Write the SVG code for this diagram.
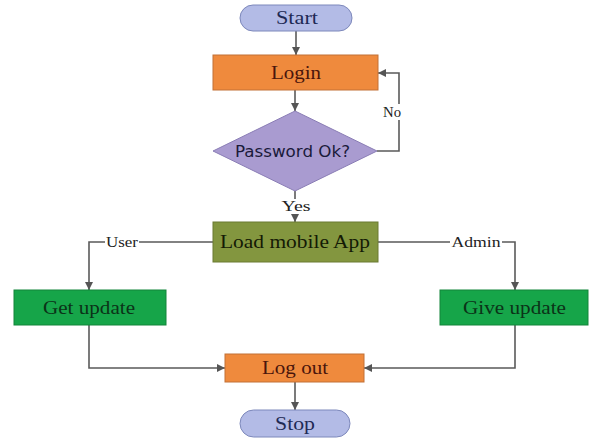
<svg xmlns="http://www.w3.org/2000/svg" width="591" height="439" viewBox="0 0 591 439">
  <defs>
    <marker id="arrow" viewBox="0 0 10 10" refX="10" refY="5" markerWidth="8" markerHeight="8" markerUnits="userSpaceOnUse" orient="auto">
      <path d="M0,0 L10,5 L0,10 z" fill="#555"/>
    </marker>
    <style>
      .term { fill: #b3bbe6; stroke: #7d88bb; stroke-width: 1; }
      .proc { fill: #ef8a3d; stroke: #c27136; stroke-width: 1; }
      .dec { fill: #a99bd0; stroke: #8a7db5; stroke-width: 1; }
      .load { fill: #83963f; stroke: #6a7a33; stroke-width: 1; }
      .green { fill: #16a549; stroke: #12853b; stroke-width: 1; }
      .t { font-family: "Liberation Serif", "Times New Roman", serif; font-size: 18px; text-anchor: middle; dominant-baseline: central; }
      .lbl { font-family: "Liberation Serif", "Times New Roman", serif; font-size: 15px; text-anchor: middle; dominant-baseline: central; fill: #222; }
      .edge { fill: none; stroke: #5a5a5a; stroke-width: 1.6; }
    </style>
  </defs>
  <rect width="591" height="439" fill="#ffffff"/>

  <!-- connectors -->
  <g id="connectors">
    <path class="edge" d="M296,31 V55" marker-end="url(#arrow)"/>
    <path class="edge" d="M295,90 V111" marker-end="url(#arrow)"/>
    <path class="edge" d="M377,151 H399 V73 H378" marker-end="url(#arrow)"/>
    <path class="edge" d="M295,191 V222" marker-end="url(#arrow)"/>
    <path class="edge" d="M213,242 H89 V290" marker-end="url(#arrow)"/>
    <path class="edge" d="M378,242 H515 V290" marker-end="url(#arrow)"/>
    <path class="edge" d="M89,325 V368 H225" marker-end="url(#arrow)"/>
    <path class="edge" d="M515,325 V368 H364" marker-end="url(#arrow)"/>
    <path class="edge" d="M295,382 V410" marker-end="url(#arrow)"/>
    <!-- edge labels -->
    <rect x="382" y="104" width="20" height="16" fill="#fff"/>
    <text class="lbl" x="392" y="112" textLength="18" lengthAdjust="spacingAndGlyphs">No</text>
    <rect x="280" y="199" width="32" height="15" fill="#fff"/>
    <text class="lbl" x="296" y="206" textLength="29" lengthAdjust="spacingAndGlyphs">Yes</text>
    <rect x="105" y="235" width="34" height="15" fill="#fff"/>
    <text class="lbl" x="122" y="242" textLength="32" lengthAdjust="spacingAndGlyphs">User</text>
    <rect x="450" y="235" width="52" height="15" fill="#fff"/>
    <text class="lbl" x="476" y="242" textLength="49" lengthAdjust="spacingAndGlyphs">Admin</text>
  </g>

  <g id="start">
    <rect class="term" x="240" y="5" width="112" height="26" rx="13" ry="13"/>
    <text class="t" x="297" y="18" fill="#1e2a55" textLength="42" lengthAdjust="spacingAndGlyphs">Start</text>
  </g>
  <g id="login">
    <rect class="proc" x="213" y="55" width="165" height="35"/>
    <text class="t" x="296" y="72.5" fill="#4a150c" textLength="50" lengthAdjust="spacingAndGlyphs">Login</text>
  </g>
  <g id="password">
    <polygon class="dec" points="295,111 377,151 295,191 213,151"/>
    <text x="292.5" y="151" font-family="'DejaVu Sans', 'Noto Sans', sans-serif" font-size="16" text-anchor="middle" dominant-baseline="central" fill="#1a1a3a" textLength="115" lengthAdjust="spacingAndGlyphs">Password Ok?</text>
  </g>
  <g id="load">
    <rect class="load" x="213" y="222" width="165" height="40"/>
    <text class="t" x="295" y="242" fill="#141a05" textLength="150" lengthAdjust="spacingAndGlyphs">Load mobile App</text>
  </g>
  <g id="get-update">
    <rect class="green" x="14" y="290" width="152" height="35"/>
    <text class="t" x="89" y="307.5" fill="#0b3318" textLength="92" lengthAdjust="spacingAndGlyphs">Get update</text>
  </g>
  <g id="give-update">
    <rect class="green" x="440" y="290" width="148" height="35"/>
    <text class="t" x="514.5" y="307.5" fill="#0b3318" textLength="103" lengthAdjust="spacingAndGlyphs">Give update</text>
  </g>
  <g id="logout">
    <rect class="proc" x="225" y="354" width="139" height="28"/>
    <text class="t" x="295" y="368" fill="#4a150c" textLength="66" lengthAdjust="spacingAndGlyphs">Log out</text>
  </g>
  <g id="stop">
    <rect class="term" x="240" y="410" width="110" height="27" rx="13.5" ry="13.5"/>
    <text class="t" x="295" y="423.5" fill="#1e2a55" textLength="40" lengthAdjust="spacingAndGlyphs">Stop</text>
  </g>
</svg>
